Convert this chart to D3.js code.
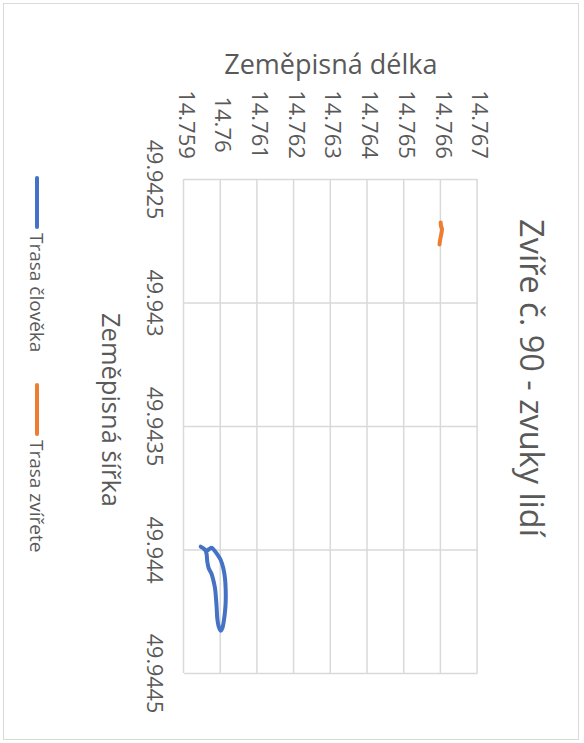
<!DOCTYPE html>
<html>
<head>
<meta charset="utf-8">
<script src="https://cdn.jsdelivr.net/npm/d3@7"></script>
<style>
  body { margin: 0; background: #fff; }
  text { font-family: "Open Sans", sans-serif; fill: #595959; }
  .grid line { stroke: #d9d9d9; stroke-width: 1.5px; }
  .grid .domain { display: none; }
</style>
</head>
<body>
<div id="chart"></div>
<script>
// chart is drawn in its normal orientation, then turned 90° clockwise like the picture

var titleText = "Zvíře č. 90 - zvuky lidí",
	xTitle = "Zeměpisná šířka",
	yTitle = "Zeměpisná délka";

var latTicks = [49.9425, 49.943, 49.9435, 49.944, 49.9445];
var latLabels = ["49.9425", "49.943", "49.9435", "49.944", "49.9445"];
var lonTicks = [14.759, 14.76, 14.761, 14.762, 14.763, 14.764, 14.765, 14.766, 14.767];
var lonLabels = ["14.759", "14.76", "14.761", "14.762", "14.763", "14.764", "14.765", "14.766", "14.767"];

// Trasa člověka
var humanLat = [49.9439887, 49.9439951, 49.9440049, 49.9440223, 49.9440494, 49.9440761, 49.9440964,
	49.9441235, 49.9441571, 49.9441976, 49.9442381, 49.9442785, 49.9443126, 49.9443287, 49.9443190,
	49.9442923, 49.9442518, 49.9442113, 49.9441640, 49.9441166, 49.9440761, 49.9440425, 49.9440194,
	49.9440020, 49.9439927, 49.9439980, 49.9440061];
var humanLon = [14.759455, 14.759526, 14.759591, 14.759619, 14.759635, 14.759673, 14.759744,
	14.759798, 14.759845, 14.759872, 14.759891, 14.759907, 14.759946, 14.760000, 14.760044,
	14.760082, 14.760117, 14.760136, 14.760136, 14.760117, 14.760071, 14.760000, 14.759907,
	14.759817, 14.759755, 14.759689, 14.759619];

// Trasa zvířete
var animalLat = [49.9426761, 49.9426903, 49.9427024, 49.9427186, 49.9427389, 49.9427551, 49.9427652];
var animalLon = [14.765995, 14.766003, 14.766030, 14.766016, 14.765989, 14.765970, 14.765962];

var seriesNames = ["Trasa člověka", "Trasa zvířete"];
var seriesColors = ["#4472c4", "#ed7d31"];

var W = 743, H = 584; // unrotated size
var margin = { left: 179, right: 70, top: 106.4, bottom: 184 };
var pw = W - margin.left - margin.right,
	ph = H - margin.top - margin.bottom;

var series = [
	{ name: seriesNames[0], color: seriesColors[0], values: humanLat.map(function(d, i) { return { lat: d, lon: humanLon[i] }; }) },
	{ name: seriesNames[1], color: seriesColors[1], values: animalLat.map(function(d, i) { return { lat: d, lon: animalLon[i] }; }) }
];

var svg = d3.select("#chart").append("svg")
	.attr("width", H)
	.attr("height", W);

var root = svg.append("g")
	.attr("transform", "translate(" + H + ",0) rotate(90)");

// chart border
root.append("rect")
	.attr("x", 3.5).attr("y", 5.5)
	.attr("width", W - 7).attr("height", H - 9)
	.attr("fill", "none")
	.attr("stroke", "#d9d9d9");

var g = root.append("g")
	.attr("transform", "translate(" + margin.left + "," + margin.top + ")");

var x = d3.scaleLinear().domain([49.9425, 49.9445]).range([0, pw]);
var y = d3.scaleLinear().domain([14.759, 14.767]).range([ph, 0]);

// x axis + vertical grid
var gx = g.append("g")
	.attr("class", "grid")
	.attr("transform", "translate(0," + ph + ")")
	.call(d3.axisBottom(x)
		.tickValues(latTicks)
		.tickSize(-ph)
		.tickPadding(22)
		.tickFormat(function(d, i) { return latLabels[i]; }));
gx.selectAll("text").style("font-size", "21.5px");

// y axis + horizontal grid
var gy = g.append("g")
	.attr("class", "grid")
	.call(d3.axisLeft(y)
		.tickValues(lonTicks)
		.tickSize(-pw)
		.tickFormat(function(d, i) { return lonLabels[i]; }));
gy.selectAll("text")
	.attr("x", -54.5)
	.attr("dy", "0.22em")
	.attr("text-anchor", "middle")
	.style("font-size", "22px");

// lines
var line = d3.line()
	.curve(d3.curveCatmullRom.alpha(0.5))
	.x(function(d) { return x(d.lat); })
	.y(function(d) { return y(d.lon); });

g.selectAll(".series")
	.data(series)
	.enter().append("path")
	.attr("class", "series")
	.attr("d", function(d) { return line(d.values); })
	.attr("fill", "none")
	.attr("stroke", function(d) { return d.color; })
	.attr("stroke-width", 4)
	.attr("stroke-linejoin", "round")
	.attr("stroke-linecap", "round");

// titles
root.append("text")
	.attr("x", 378)
	.attr("y", 64)
	.attr("text-anchor", "middle")
	.style("font-size", "32.5px")
	.text(titleText);

root.append("text")
	.attr("transform", "translate(74," + (margin.top + ph / 2) + ") rotate(-90)")
	.attr("text-anchor", "middle")
	.style("font-size", "27px")
	.text(yTitle);

root.append("text")
	.attr("x", 410)
	.attr("y", 482)
	.attr("text-anchor", "middle")
	.style("font-size", "25.5px")
	.text(xTitle);

// legend
var legendX = [178, 385];
var lg = root.selectAll(".legend")
	.data(series)
	.enter().append("g")
	.attr("class", "legend")
	.attr("transform", function(d, i) { return "translate(" + legendX[i] + ",547)"; });

lg.append("line")
	.attr("x1", 0).attr("x2", 49)
	.attr("stroke", function(d) { return d.color; })
	.attr("stroke-width", 4)
	.attr("stroke-linecap", "round");

lg.append("text")
	.attr("x", 55)
	.attr("y", 7)
	.style("font-size", "19px")
	.text(function(d) { return d.name; });
</script>
</body>
</html>
